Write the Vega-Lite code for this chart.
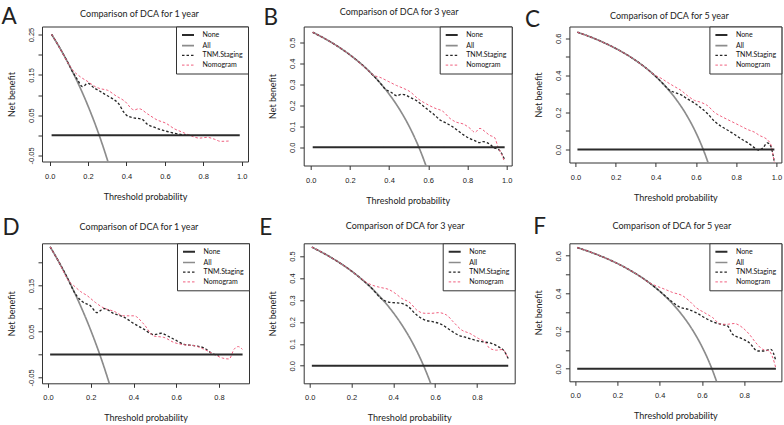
{
"$schema": "https://vega.github.io/schema/vega-lite/v6.json",
"background": "white",
"padding": {"top": 4.5, "left": 0, "right": 0, "bottom": 0},
"autosize": {"type": "pad"},
"datasets": {
"A": [
{"s":"None","t":0.01,"nb":0},{"s":"None","t":0.99,"nb":0},
{"s":"All","t":0.01,"nb":0.2505},{"s":"All","t":0.05,"nb":0.219},{"s":"All","t":0.1,"nb":0.1756},{"s":"All","t":0.15,"nb":0.1271},{"s":"All","t":0.2,"nb":0.0725},{"s":"All","t":0.25,"nb":0.0107},{"s":"All","t":0.28,"nb":-0.0306},{"s":"All","t":0.31,"nb":-0.0754},
{"s":"TNM.Staging","t":0.01,"nb":0.2505},{"s":"TNM.Staging","t":0.05,"nb":0.219},{"s":"TNM.Staging","t":0.1,"nb":0.1756},{"s":"TNM.Staging","t":0.12,"nb":0.157},{"s":"TNM.Staging","t":0.145,"nb":0.138},{"s":"TNM.Staging","t":0.17,"nb":0.121},{"s":"TNM.Staging","t":0.2,"nb":0.129},{"s":"TNM.Staging","t":0.23,"nb":0.118},{"s":"TNM.Staging","t":0.26,"nb":0.11},{"s":"TNM.Staging","t":0.29,"nb":0.101},{"s":"TNM.Staging","t":0.33,"nb":0.09},{"s":"TNM.Staging","t":0.36,"nb":0.078},{"s":"TNM.Staging","t":0.385,"nb":0.058},{"s":"TNM.Staging","t":0.4,"nb":0.05},{"s":"TNM.Staging","t":0.43,"nb":0.044},{"s":"TNM.Staging","t":0.48,"nb":0.04},{"s":"TNM.Staging","t":0.51,"nb":0.027},{"s":"TNM.Staging","t":0.545,"nb":0.02},{"s":"TNM.Staging","t":0.6,"nb":0.011},{"s":"TNM.Staging","t":0.65,"nb":0.005},{"s":"TNM.Staging","t":0.7,"nb":0.001},{"s":"TNM.Staging","t":0.73,"nb":0.0},
{"s":"Nomogram","t":0.01,"nb":0.2505},{"s":"Nomogram","t":0.05,"nb":0.219},{"s":"Nomogram","t":0.1,"nb":0.1756},{"s":"Nomogram","t":0.12,"nb":0.162},{"s":"Nomogram","t":0.16,"nb":0.145},{"s":"Nomogram","t":0.2,"nb":0.133},{"s":"Nomogram","t":0.24,"nb":0.12},{"s":"Nomogram","t":0.27,"nb":0.115},{"s":"Nomogram","t":0.3,"nb":0.112},{"s":"Nomogram","t":0.345,"nb":0.098},{"s":"Nomogram","t":0.39,"nb":0.085},{"s":"Nomogram","t":0.44,"nb":0.063},{"s":"Nomogram","t":0.465,"nb":0.066},{"s":"Nomogram","t":0.51,"nb":0.053},{"s":"Nomogram","t":0.56,"nb":0.038},{"s":"Nomogram","t":0.605,"nb":0.03},{"s":"Nomogram","t":0.65,"nb":0.016},{"s":"Nomogram","t":0.69,"nb":0.008},{"s":"Nomogram","t":0.735,"nb":-0.001},{"s":"Nomogram","t":0.78,"nb":-0.007},{"s":"Nomogram","t":0.82,"nb":-0.005},{"s":"Nomogram","t":0.86,"nb":-0.01},{"s":"Nomogram","t":0.89,"nb":-0.015},{"s":"Nomogram","t":0.94,"nb":-0.014}
],
"B": [
{"s":"None","t":0.01,"nb":0},{"s":"None","t":0.99,"nb":0},
{"s":"All","t":0.01,"nb":0.5475},{"s":"All","t":0.05,"nb":0.5284},{"s":"All","t":0.1,"nb":0.5022},{"s":"All","t":0.15,"nb":0.4729},{"s":"All","t":0.2,"nb":0.44},{"s":"All","t":0.25,"nb":0.4027},{"s":"All","t":0.3,"nb":0.36},{"s":"All","t":0.35,"nb":0.3108},{"s":"All","t":0.4,"nb":0.2533},{"s":"All","t":0.45,"nb":0.1855},{"s":"All","t":0.5,"nb":0.104},{"s":"All","t":0.55,"nb":0.0044},{"s":"All","t":0.575,"nb":-0.0541},{"s":"All","t":0.6,"nb":-0.12},
{"s":"TNM.Staging","t":0.01,"nb":0.5475},{"s":"TNM.Staging","t":0.1,"nb":0.5022},{"s":"TNM.Staging","t":0.2,"nb":0.44},{"s":"TNM.Staging","t":0.3,"nb":0.36},{"s":"TNM.Staging","t":0.35,"nb":0.3108},{"s":"TNM.Staging","t":0.38,"nb":0.2774},{"s":"TNM.Staging","t":0.41,"nb":0.262},{"s":"TNM.Staging","t":0.44,"nb":0.245},{"s":"TNM.Staging","t":0.46,"nb":0.252},{"s":"TNM.Staging","t":0.48,"nb":0.25},{"s":"TNM.Staging","t":0.51,"nb":0.236},{"s":"TNM.Staging","t":0.54,"nb":0.222},{"s":"TNM.Staging","t":0.57,"nb":0.2},{"s":"TNM.Staging","t":0.6,"nb":0.177},{"s":"TNM.Staging","t":0.63,"nb":0.155},{"s":"TNM.Staging","t":0.66,"nb":0.13},{"s":"TNM.Staging","t":0.69,"nb":0.116},{"s":"TNM.Staging","t":0.72,"nb":0.1},{"s":"TNM.Staging","t":0.75,"nb":0.08},{"s":"TNM.Staging","t":0.78,"nb":0.059},{"s":"TNM.Staging","t":0.81,"nb":0.042},{"s":"TNM.Staging","t":0.84,"nb":0.03},{"s":"TNM.Staging","t":0.86,"nb":0.022},{"s":"TNM.Staging","t":0.88,"nb":0.027},{"s":"TNM.Staging","t":0.9,"nb":0.022},{"s":"TNM.Staging","t":0.92,"nb":0.01},{"s":"TNM.Staging","t":0.935,"nb":-0.003},{"s":"TNM.Staging","t":0.955,"nb":-0.008},{"s":"TNM.Staging","t":0.975,"nb":-0.03},{"s":"TNM.Staging","t":0.99,"nb":-0.06},
{"s":"Nomogram","t":0.01,"nb":0.5475},{"s":"Nomogram","t":0.1,"nb":0.5022},{"s":"Nomogram","t":0.2,"nb":0.44},{"s":"Nomogram","t":0.3,"nb":0.36},{"s":"Nomogram","t":0.32,"nb":0.343},{"s":"Nomogram","t":0.353,"nb":0.333},{"s":"Nomogram","t":0.395,"nb":0.314},{"s":"Nomogram","t":0.438,"nb":0.294},{"s":"Nomogram","t":0.472,"nb":0.281},{"s":"Nomogram","t":0.506,"nb":0.265},{"s":"Nomogram","t":0.549,"nb":0.23},{"s":"Nomogram","t":0.591,"nb":0.206},{"s":"Nomogram","t":0.634,"nb":0.186},{"s":"Nomogram","t":0.676,"nb":0.17},{"s":"Nomogram","t":0.71,"nb":0.138},{"s":"Nomogram","t":0.744,"nb":0.119},{"s":"Nomogram","t":0.778,"nb":0.111},{"s":"Nomogram","t":0.813,"nb":0.09},{"s":"Nomogram","t":0.838,"nb":0.071},{"s":"Nomogram","t":0.864,"nb":0.09},{"s":"Nomogram","t":0.889,"nb":0.075},{"s":"Nomogram","t":0.915,"nb":0.056},{"s":"Nomogram","t":0.937,"nb":0.048},{"s":"Nomogram","t":0.957,"nb":0.0},{"s":"Nomogram","t":0.975,"nb":-0.035},{"s":"Nomogram","t":0.99,"nb":-0.071}
],
"C": [
{"s":"None","t":0.01,"nb":0},{"s":"None","t":0.99,"nb":0},
{"s":"All","t":0.01,"nb":0.6323},{"s":"All","t":0.05,"nb":0.6168},{"s":"All","t":0.1,"nb":0.5956},{"s":"All","t":0.15,"nb":0.5718},{"s":"All","t":0.2,"nb":0.545},{"s":"All","t":0.25,"nb":0.5147},{"s":"All","t":0.3,"nb":0.48},{"s":"All","t":0.35,"nb":0.44},{"s":"All","t":0.4,"nb":0.3933},{"s":"All","t":0.45,"nb":0.3382},{"s":"All","t":0.5,"nb":0.272},{"s":"All","t":0.55,"nb":0.1911},{"s":"All","t":0.6,"nb":0.09},{"s":"All","t":0.625,"nb":0.0293},{"s":"All","t":0.65,"nb":-0.04},{"s":"All","t":0.675,"nb":-0.12},
{"s":"TNM.Staging","t":0.01,"nb":0.6323},{"s":"TNM.Staging","t":0.1,"nb":0.5956},{"s":"TNM.Staging","t":0.2,"nb":0.545},{"s":"TNM.Staging","t":0.3,"nb":0.48},{"s":"TNM.Staging","t":0.35,"nb":0.44},{"s":"TNM.Staging","t":0.4,"nb":0.3933},{"s":"TNM.Staging","t":0.45,"nb":0.3382},{"s":"TNM.Staging","t":0.46,"nb":0.327},{"s":"TNM.Staging","t":0.492,"nb":0.308},{"s":"TNM.Staging","t":0.525,"nb":0.295},{"s":"TNM.Staging","t":0.558,"nb":0.272},{"s":"TNM.Staging","t":0.592,"nb":0.251},{"s":"TNM.Staging","t":0.625,"nb":0.224},{"s":"TNM.Staging","t":0.658,"nb":0.193},{"s":"TNM.Staging","t":0.692,"nb":0.152},{"s":"TNM.Staging","t":0.725,"nb":0.125},{"s":"TNM.Staging","t":0.758,"nb":0.104},{"s":"TNM.Staging","t":0.792,"nb":0.081},{"s":"TNM.Staging","t":0.825,"nb":0.057},{"s":"TNM.Staging","t":0.858,"nb":0.036},{"s":"TNM.Staging","t":0.892,"nb":0.009},{"s":"TNM.Staging","t":0.912,"nb":-0.004},{"s":"TNM.Staging","t":0.933,"nb":0.009},{"s":"TNM.Staging","t":0.955,"nb":0.036},{"s":"TNM.Staging","t":0.972,"nb":0.018},{"s":"TNM.Staging","t":0.983,"nb":-0.027},{"s":"TNM.Staging","t":0.99,"nb":-0.07},
{"s":"Nomogram","t":0.01,"nb":0.6323},{"s":"Nomogram","t":0.1,"nb":0.5956},{"s":"Nomogram","t":0.2,"nb":0.545},{"s":"Nomogram","t":0.3,"nb":0.48},{"s":"Nomogram","t":0.35,"nb":0.44},{"s":"Nomogram","t":0.392,"nb":0.403},{"s":"Nomogram","t":0.425,"nb":0.385},{"s":"Nomogram","t":0.458,"nb":0.362},{"s":"Nomogram","t":0.492,"nb":0.34},{"s":"Nomogram","t":0.525,"nb":0.319},{"s":"Nomogram","t":0.558,"nb":0.29},{"s":"Nomogram","t":0.592,"nb":0.265},{"s":"Nomogram","t":0.625,"nb":0.254},{"s":"Nomogram","t":0.658,"nb":0.236},{"s":"Nomogram","t":0.692,"nb":0.2},{"s":"Nomogram","t":0.725,"nb":0.179},{"s":"Nomogram","t":0.758,"nb":0.161},{"s":"Nomogram","t":0.792,"nb":0.143},{"s":"Nomogram","t":0.825,"nb":0.125},{"s":"Nomogram","t":0.858,"nb":0.107},{"s":"Nomogram","t":0.892,"nb":0.093},{"s":"Nomogram","t":0.917,"nb":0.075},{"s":"Nomogram","t":0.942,"nb":0.063},{"s":"Nomogram","t":0.958,"nb":0.05},{"s":"Nomogram","t":0.975,"nb":0.018},{"s":"Nomogram","t":0.983,"nb":-0.027},{"s":"Nomogram","t":0.99,"nb":-0.07}
],
"D": [
{"s":"None","t":0.01,"nb":0},{"s":"None","t":0.91,"nb":0},
{"s":"All","t":0.01,"nb":0.2343},{"s":"All","t":0.05,"nb":0.2021},{"s":"All","t":0.1,"nb":0.1578},{"s":"All","t":0.15,"nb":0.1082},{"s":"All","t":0.2,"nb":0.0525},{"s":"All","t":0.25,"nb":-0.0107},{"s":"All","t":0.3,"nb":-0.0829},
{"s":"TNM.Staging","t":0.01,"nb":0.2343},{"s":"TNM.Staging","t":0.05,"nb":0.2021},{"s":"TNM.Staging","t":0.1,"nb":0.1578},{"s":"TNM.Staging","t":0.12,"nb":0.138},{"s":"TNM.Staging","t":0.16,"nb":0.115},{"s":"TNM.Staging","t":0.198,"nb":0.106},{"s":"TNM.Staging","t":0.23,"nb":0.091},{"s":"TNM.Staging","t":0.261,"nb":0.1},{"s":"TNM.Staging","t":0.308,"nb":0.089},{"s":"TNM.Staging","t":0.355,"nb":0.081},{"s":"TNM.Staging","t":0.402,"nb":0.067},{"s":"TNM.Staging","t":0.448,"nb":0.055},{"s":"TNM.Staging","t":0.495,"nb":0.043},{"s":"TNM.Staging","t":0.53,"nb":0.046},{"s":"TNM.Staging","t":0.56,"nb":0.04},{"s":"TNM.Staging","t":0.589,"nb":0.033},{"s":"TNM.Staging","t":0.636,"nb":0.022},{"s":"TNM.Staging","t":0.683,"nb":0.019},{"s":"TNM.Staging","t":0.73,"nb":0.014},{"s":"TNM.Staging","t":0.777,"nb":0.0},{"s":"TNM.Staging","t":0.8,"nb":-0.001},
{"s":"Nomogram","t":0.01,"nb":0.2343},{"s":"Nomogram","t":0.05,"nb":0.2021},{"s":"Nomogram","t":0.1,"nb":0.1578},{"s":"Nomogram","t":0.12,"nb":0.15},{"s":"Nomogram","t":0.152,"nb":0.137},{"s":"Nomogram","t":0.183,"nb":0.128},{"s":"Nomogram","t":0.222,"nb":0.113},{"s":"Nomogram","t":0.261,"nb":0.101},{"s":"Nomogram","t":0.308,"nb":0.094},{"s":"Nomogram","t":0.355,"nb":0.084},{"s":"Nomogram","t":0.402,"nb":0.084},{"s":"Nomogram","t":0.448,"nb":0.066},{"s":"Nomogram","t":0.495,"nb":0.04},{"s":"Nomogram","t":0.542,"nb":0.037},{"s":"Nomogram","t":0.589,"nb":0.026},{"s":"Nomogram","t":0.636,"nb":0.021},{"s":"Nomogram","t":0.683,"nb":0.019},{"s":"Nomogram","t":0.73,"nb":0.011},{"s":"Nomogram","t":0.777,"nb":0.0},{"s":"Nomogram","t":0.816,"nb":-0.008},{"s":"Nomogram","t":0.847,"nb":-0.01},{"s":"Nomogram","t":0.87,"nb":0.011},{"s":"Nomogram","t":0.889,"nb":0.017},{"s":"Nomogram","t":0.909,"nb":0.011}
],
"E": [
{"s":"None","t":0.01,"nb":0},{"s":"None","t":0.95,"nb":0},
{"s":"All","t":0.01,"nb":0.5404},{"s":"All","t":0.05,"nb":0.521},{"s":"All","t":0.1,"nb":0.4944},{"s":"All","t":0.15,"nb":0.4647},{"s":"All","t":0.2,"nb":0.4313},{"s":"All","t":0.25,"nb":0.3933},{"s":"All","t":0.3,"nb":0.35},{"s":"All","t":0.35,"nb":0.2999},{"s":"All","t":0.4,"nb":0.2417},{"s":"All","t":0.45,"nb":0.1727},{"s":"All","t":0.5,"nb":0.09},{"s":"All","t":0.55,"nb":-0.0111},{"s":"All","t":0.575,"nb":-0.0707},{"s":"All","t":0.6,"nb":-0.1375},
{"s":"TNM.Staging","t":0.01,"nb":0.5404},{"s":"TNM.Staging","t":0.1,"nb":0.4944},{"s":"TNM.Staging","t":0.2,"nb":0.4313},{"s":"TNM.Staging","t":0.25,"nb":0.3933},{"s":"TNM.Staging","t":0.3,"nb":0.35},{"s":"TNM.Staging","t":0.337,"nb":0.31},{"s":"TNM.Staging","t":0.377,"nb":0.29},{"s":"TNM.Staging","t":0.409,"nb":0.287},{"s":"TNM.Staging","t":0.44,"nb":0.284},{"s":"TNM.Staging","t":0.472,"nb":0.269},{"s":"TNM.Staging","t":0.512,"nb":0.231},{"s":"TNM.Staging","t":0.552,"nb":0.208},{"s":"TNM.Staging","t":0.592,"nb":0.2},{"s":"TNM.Staging","t":0.631,"nb":0.188},{"s":"TNM.Staging","t":0.671,"nb":0.163},{"s":"TNM.Staging","t":0.711,"nb":0.14},{"s":"TNM.Staging","t":0.751,"nb":0.128},{"s":"TNM.Staging","t":0.79,"nb":0.117},{"s":"TNM.Staging","t":0.83,"nb":0.109},{"s":"TNM.Staging","t":0.87,"nb":0.102},{"s":"TNM.Staging","t":0.902,"nb":0.087},{"s":"TNM.Staging","t":0.93,"nb":0.068},{"s":"TNM.Staging","t":0.95,"nb":0.033},
{"s":"Nomogram","t":0.01,"nb":0.5404},{"s":"Nomogram","t":0.1,"nb":0.4944},{"s":"Nomogram","t":0.2,"nb":0.4313},{"s":"Nomogram","t":0.234,"nb":0.406},{"s":"Nomogram","t":0.266,"nb":0.383},{"s":"Nomogram","t":0.297,"nb":0.368},{"s":"Nomogram","t":0.337,"nb":0.357},{"s":"Nomogram","t":0.377,"nb":0.348},{"s":"Nomogram","t":0.409,"nb":0.33},{"s":"Nomogram","t":0.44,"nb":0.307},{"s":"Nomogram","t":0.48,"nb":0.287},{"s":"Nomogram","t":0.512,"nb":0.254},{"s":"Nomogram","t":0.552,"nb":0.239},{"s":"Nomogram","t":0.584,"nb":0.239},{"s":"Nomogram","t":0.616,"nb":0.242},{"s":"Nomogram","t":0.655,"nb":0.231},{"s":"Nomogram","t":0.687,"nb":0.2},{"s":"Nomogram","t":0.727,"nb":0.163},{"s":"Nomogram","t":0.767,"nb":0.147},{"s":"Nomogram","t":0.806,"nb":0.125},{"s":"Nomogram","t":0.838,"nb":0.109},{"s":"Nomogram","t":0.862,"nb":0.079},{"s":"Nomogram","t":0.894,"nb":0.071},{"s":"Nomogram","t":0.921,"nb":0.074},{"s":"Nomogram","t":0.95,"nb":0.033}
],
"F": [
{"s":"None","t":0.01,"nb":0},{"s":"None","t":0.95,"nb":0},
{"s":"All","t":0.01,"nb":0.6434},{"s":"All","t":0.05,"nb":0.6284},{"s":"All","t":0.1,"nb":0.6078},{"s":"All","t":0.15,"nb":0.5847},{"s":"All","t":0.2,"nb":0.5588},{"s":"All","t":0.25,"nb":0.5293},{"s":"All","t":0.3,"nb":0.4957},{"s":"All","t":0.35,"nb":0.457},{"s":"All","t":0.4,"nb":0.4117},{"s":"All","t":0.45,"nb":0.3582},{"s":"All","t":0.5,"nb":0.294},{"s":"All","t":0.55,"nb":0.2156},{"s":"All","t":0.6,"nb":0.1175},{"s":"All","t":0.625,"nb":0.0587},{"s":"All","t":0.65,"nb":-0.0085},{"s":"All","t":0.675,"nb":-0.0864},
{"s":"TNM.Staging","t":0.01,"nb":0.6434},{"s":"TNM.Staging","t":0.1,"nb":0.6078},{"s":"TNM.Staging","t":0.2,"nb":0.5588},{"s":"TNM.Staging","t":0.3,"nb":0.4957},{"s":"TNM.Staging","t":0.35,"nb":0.457},{"s":"TNM.Staging","t":0.4,"nb":0.4117},{"s":"TNM.Staging","t":0.454,"nb":0.36},{"s":"TNM.Staging","t":0.493,"nb":0.328},{"s":"TNM.Staging","t":0.532,"nb":0.316},{"s":"TNM.Staging","t":0.572,"nb":0.298},{"s":"TNM.Staging","t":0.611,"nb":0.272},{"s":"TNM.Staging","t":0.65,"nb":0.25},{"s":"TNM.Staging","t":0.69,"nb":0.236},{"s":"TNM.Staging","t":0.721,"nb":0.227},{"s":"TNM.Staging","t":0.745,"nb":0.183},{"s":"TNM.Staging","t":0.784,"nb":0.162},{"s":"TNM.Staging","t":0.824,"nb":0.138},{"s":"TNM.Staging","t":0.863,"nb":0.094},{"s":"TNM.Staging","t":0.894,"nb":0.094},{"s":"TNM.Staging","t":0.926,"nb":0.103},{"s":"TNM.Staging","t":0.95,"nb":0.041},
{"s":"Nomogram","t":0.01,"nb":0.6434},{"s":"Nomogram","t":0.1,"nb":0.6078},{"s":"Nomogram","t":0.2,"nb":0.5588},{"s":"Nomogram","t":0.3,"nb":0.4957},{"s":"Nomogram","t":0.35,"nb":0.457},{"s":"Nomogram","t":0.383,"nb":0.44},{"s":"Nomogram","t":0.422,"nb":0.423},{"s":"Nomogram","t":0.461,"nb":0.405},{"s":"Nomogram","t":0.509,"nb":0.387},{"s":"Nomogram","t":0.54,"nb":0.36},{"s":"Nomogram","t":0.572,"nb":0.325},{"s":"Nomogram","t":0.611,"nb":0.298},{"s":"Nomogram","t":0.65,"nb":0.272},{"s":"Nomogram","t":0.69,"nb":0.236},{"s":"Nomogram","t":0.721,"nb":0.236},{"s":"Nomogram","t":0.753,"nb":0.24},{"s":"Nomogram","t":0.792,"nb":0.218},{"s":"Nomogram","t":0.824,"nb":0.183},{"s":"Nomogram","t":0.855,"nb":0.138},{"s":"Nomogram","t":0.887,"nb":0.103},{"s":"Nomogram","t":0.918,"nb":0.094},{"s":"Nomogram","t":0.934,"nb":0.062},{"s":"Nomogram","t":0.95,"nb":0.002}
]
},
"columns": 3,
"bounds": "flush",
"spacing": {"row": 77.8, "column": 54.7},
"resolve": {
  "scale": {"color": "independent", "strokeDash": "independent", "strokeWidth": "independent", "x": "independent", "y": "independent"},
  "legend": {"color": "independent", "strokeDash": "independent", "strokeWidth": "independent"}
},
"concat": [
{
 "width": 206, "height": 135,
 "data": {"name": "A"},
 "resolve": {"axis": {"x": "independent", "y": "independent"}},
 "encoding": {
  "color": {"field": "s", "type": "nominal", "scale": {"domain": ["None","All","TNM.Staging","Nomogram"], "range": ["#2b2b2b","#8c8c8c","#262626","#f0607f"]}, "legend": {"title": null}},
  "strokeDash": {"field": "s", "type": "nominal", "scale": {"domain": ["None","All","TNM.Staging","Nomogram"], "range": [[1,0],[1,0],[2.5,2],[2.5,2]]}, "legend": {"title": null}},
  "strokeWidth": {"field": "s", "type": "nominal", "scale": {"domain": ["None","All","TNM.Staging","Nomogram"], "range": [2,1,0.8,0.8]}, "legend": {"title": null}}
 },
 "layer": [
  {"transform": [{"filter": "datum.s != 'None'"}],
   "mark": {"type": "line", "clip": true, "interpolate": "monotone"},
   "encoding": {
    "x": {"field": "t", "type": "quantitative", "scale": {"domain": [-0.04, 1.033], "nice": false, "zero": false},
          "axis": {"orient": "bottom", "values": [0,0.2,0.4,0.6,0.8,1], "format": ".1f", "title": "Threshold probability", "titleY": 37.5, "titleBaseline": "alphabetic"}},
    "y": {"field": "nb", "type": "quantitative", "scale": {"domain": [-0.065, 0.27], "nice": false, "zero": false},
          "axis": {"values": [-0.05,0,0.05,0.1,0.15,0.2,0.25], "labelExpr": "abs(round(datum.value*100)) % 10 == 5 ? replace(format(datum.value, '.2f'), '\u2212', '-') : ''", "title": "Net benefit", "labelAngle": -90, "labelAlign": "center", "labelBaseline": "alphabetic", "labelPadding": 5, "titleX": -28, "titleBaseline": "alphabetic"}}
   }},
  {"transform": [{"filter": "datum.s == 'None'"}],
   "mark": {"type": "line", "clip": true},
   "encoding": {
    "x": {"field": "t", "type": "quantitative", "scale": {"domain": [-0.04, 1.033], "nice": false, "zero": false},
          "axis": {"orient": "top", "labels": false, "ticks": false, "domain": false, "title": "Comparison of DCA for 1 year", "titleX": 97, "titleY": -10, "titleBaseline": "alphabetic"}},
    "y": {"field": "nb", "type": "quantitative", "scale": {"domain": [-0.065, 0.27], "nice": false, "zero": false},
          "axis": {"orient": "left", "labels": false, "ticks": false, "domain": false, "title": "A", "titleAngle": 0, "titleX": -41, "titleY": -2.7, "titleAlign": "left", "titleBaseline": "alphabetic", "titleFontSize": 22.5}}
   }}
 ]
},
{
 "width": 208, "height": 139,
 "data": {"name": "B"},
 "resolve": {"axis": {"x": "independent", "y": "independent"}},
 "encoding": {
  "color": {"field": "s", "type": "nominal", "scale": {"domain": ["None","All","TNM.Staging","Nomogram"], "range": ["#2b2b2b","#8c8c8c","#262626","#f0607f"]}, "legend": {"title": null}},
  "strokeDash": {"field": "s", "type": "nominal", "scale": {"domain": ["None","All","TNM.Staging","Nomogram"], "range": [[1,0],[1,0],[2.5,2],[2.5,2]]}, "legend": {"title": null}},
  "strokeWidth": {"field": "s", "type": "nominal", "scale": {"domain": ["None","All","TNM.Staging","Nomogram"], "range": [2,1,0.8,0.8]}, "legend": {"title": null}}
 },
 "layer": [
  {"transform": [{"filter": "datum.s != 'None'"}],
   "mark": {"type": "line", "clip": true, "interpolate": "monotone"},
   "encoding": {
    "x": {"field": "t", "type": "quantitative", "scale": {"domain": [-0.036, 1.026], "nice": false, "zero": false},
          "axis": {"orient": "bottom", "values": [0,0.2,0.4,0.6,0.8,1], "format": ".1f", "title": "Threshold probability", "titleY": 37.5, "titleBaseline": "alphabetic"}},
    "y": {"field": "nb", "type": "quantitative", "scale": {"domain": [-0.087, 0.575], "nice": false, "zero": false},
          "axis": {"values": [0,0.1,0.2,0.3,0.4,0.5], "format": ".1f", "title": "Net benefit", "labelAngle": -90, "labelAlign": "center", "labelBaseline": "alphabetic", "labelPadding": 5, "titleX": -28, "titleBaseline": "alphabetic"}}
   }},
  {"transform": [{"filter": "datum.s == 'None'"}],
   "mark": {"type": "line", "clip": true},
   "encoding": {
    "x": {"field": "t", "type": "quantitative", "scale": {"domain": [-0.036, 1.026], "nice": false, "zero": false},
          "axis": {"orient": "top", "labels": false, "ticks": false, "domain": false, "title": "Comparison of DCA for 3 year", "titleX": 95, "titleY": -11.6, "titleBaseline": "alphabetic"}},
    "y": {"field": "nb", "type": "quantitative", "scale": {"domain": [-0.087, 0.575], "nice": false, "zero": false},
          "axis": {"orient": "left", "labels": false, "ticks": false, "domain": false, "title": "B", "titleAngle": 0, "titleX": -40.7, "titleY": -2, "titleAlign": "left", "titleBaseline": "alphabetic", "titleFontSize": 22.5}}
   }}
 ]
},
{
 "width": 212, "height": 136,
 "data": {"name": "C"},
 "resolve": {"axis": {"x": "independent", "y": "independent"}},
 "encoding": {
  "color": {"field": "s", "type": "nominal", "scale": {"domain": ["None","All","TNM.Staging","Nomogram"], "range": ["#2b2b2b","#8c8c8c","#262626","#f0607f"]}, "legend": {"title": null}},
  "strokeDash": {"field": "s", "type": "nominal", "scale": {"domain": ["None","All","TNM.Staging","Nomogram"], "range": [[1,0],[1,0],[2.5,2],[2.5,2]]}, "legend": {"title": null}},
  "strokeWidth": {"field": "s", "type": "nominal", "scale": {"domain": ["None","All","TNM.Staging","Nomogram"], "range": [2,1,0.8,0.8]}, "legend": {"title": null}}
 },
 "layer": [
  {"transform": [{"filter": "datum.s != 'None'"}],
   "mark": {"type": "line", "clip": true, "interpolate": "monotone"},
   "encoding": {
    "x": {"field": "t", "type": "quantitative", "scale": {"domain": [-0.03, 1.025], "nice": false, "zero": false},
          "axis": {"orient": "bottom", "values": [0,0.2,0.4,0.6,0.8,1], "format": ".1f", "title": "Threshold probability", "titleY": 37.5, "titleBaseline": "alphabetic"}},
    "y": {"field": "nb", "type": "quantitative", "scale": {"domain": [-0.07, 0.663], "nice": false, "zero": false},
          "axis": {"values": [0,0.1,0.2,0.3,0.4,0.5,0.6], "labelExpr": "round(datum.value*10) % 2 == 0 ? format(datum.value, '.1f') : ''", "title": "Net benefit", "labelAngle": -90, "labelAlign": "center", "labelBaseline": "alphabetic", "labelPadding": 5, "titleX": -28, "titleBaseline": "alphabetic"}}
   }},
  {"transform": [{"filter": "datum.s == 'None'"}],
   "mark": {"type": "line", "clip": true},
   "encoding": {
    "x": {"field": "t", "type": "quantitative", "scale": {"domain": [-0.03, 1.025], "nice": false, "zero": false},
          "axis": {"orient": "top", "labels": false, "ticks": false, "domain": false, "title": "Comparison of DCA for 5 year", "titleX": 99.5, "titleY": -8.3, "titleBaseline": "alphabetic"}},
    "y": {"field": "nb", "type": "quantitative", "scale": {"domain": [-0.07, 0.663], "nice": false, "zero": false},
          "axis": {"orient": "left", "labels": false, "ticks": false, "domain": false, "title": "C", "titleAngle": 0, "titleX": -45, "titleY": 0, "titleAlign": "left", "titleBaseline": "alphabetic", "titleFontSize": 22.5}}
   }}
 ]
},
{
 "width": 207, "height": 140,
 "data": {"name": "D"},
 "resolve": {"axis": {"x": "independent", "y": "independent"}},
 "encoding": {
  "color": {"field": "s", "type": "nominal", "scale": {"domain": ["None","All","TNM.Staging","Nomogram"], "range": ["#2b2b2b","#8c8c8c","#262626","#f0607f"]}, "legend": {"title": null}},
  "strokeDash": {"field": "s", "type": "nominal", "scale": {"domain": ["None","All","TNM.Staging","Nomogram"], "range": [[1,0],[1,0],[2.5,2],[2.5,2]]}, "legend": {"title": null}},
  "strokeWidth": {"field": "s", "type": "nominal", "scale": {"domain": ["None","All","TNM.Staging","Nomogram"], "range": [2,1,0.8,0.8]}, "legend": {"title": null}}
 },
 "layer": [
  {"transform": [{"filter": "datum.s != 'None'"}],
   "mark": {"type": "line", "clip": true, "interpolate": "monotone"},
   "encoding": {
    "x": {"field": "t", "type": "quantitative", "scale": {"domain": [-0.028, 0.94], "nice": false, "zero": false},
          "axis": {"orient": "bottom", "values": [0,0.2,0.4,0.6,0.8], "format": ".1f", "title": "Threshold probability", "titleY": 37.5, "titleBaseline": "alphabetic"}},
    "y": {"field": "nb", "type": "quantitative", "scale": {"domain": [-0.063, 0.242], "nice": false, "zero": false},
          "axis": {"values": [-0.05,0,0.05,0.1,0.15,0.2], "labelExpr": "abs(round(datum.value*100)) % 10 == 5 ? replace(format(datum.value, '.2f'), '\u2212', '-') : ''", "title": "Net benefit", "labelAngle": -90, "labelAlign": "center", "labelBaseline": "alphabetic", "labelPadding": 5, "titleX": -28, "titleBaseline": "alphabetic"}}
   }},
  {"transform": [{"filter": "datum.s == 'None'"}],
   "mark": {"type": "line", "clip": true},
   "encoding": {
    "x": {"field": "t", "type": "quantitative", "scale": {"domain": [-0.028, 0.94], "nice": false, "zero": false},
          "axis": {"orient": "top", "labels": false, "ticks": false, "domain": false, "title": "Comparison of DCA for 1 year", "titleX": 96.5, "titleY": -14.3, "titleBaseline": "alphabetic"}},
    "y": {"field": "nb", "type": "quantitative", "scale": {"domain": [-0.063, 0.242], "nice": false, "zero": false},
          "axis": {"orient": "left", "labels": false, "ticks": false, "domain": false, "title": "D", "titleAngle": 0, "titleX": -40, "titleY": -8.6, "titleAlign": "left", "titleBaseline": "alphabetic", "titleFontSize": 22.5}}
   }}
 ]
},
{
 "width": 211, "height": 140,
 "data": {"name": "E"},
 "resolve": {"axis": {"x": "independent", "y": "independent"}},
 "encoding": {
  "color": {"field": "s", "type": "nominal", "scale": {"domain": ["None","All","TNM.Staging","Nomogram"], "range": ["#2b2b2b","#8c8c8c","#262626","#f0607f"]}, "legend": {"title": null}},
  "strokeDash": {"field": "s", "type": "nominal", "scale": {"domain": ["None","All","TNM.Staging","Nomogram"], "range": [[1,0],[1,0],[2.5,2],[2.5,2]]}, "legend": {"title": null}},
  "strokeWidth": {"field": "s", "type": "nominal", "scale": {"domain": ["None","All","TNM.Staging","Nomogram"], "range": [2,1,0.8,0.8]}, "legend": {"title": null}}
 },
 "layer": [
  {"transform": [{"filter": "datum.s != 'None'"}],
   "mark": {"type": "line", "clip": true, "interpolate": "monotone"},
   "encoding": {
    "x": {"field": "t", "type": "quantitative", "scale": {"domain": [-0.029, 0.981], "nice": false, "zero": false},
          "axis": {"orient": "bottom", "values": [0,0.2,0.4,0.6,0.8], "format": ".1f", "title": "Threshold probability", "titleY": 37.5, "titleBaseline": "alphabetic"}},
    "y": {"field": "nb", "type": "quantitative", "scale": {"domain": [-0.08, 0.558], "nice": false, "zero": false},
          "axis": {"values": [0,0.1,0.2,0.3,0.4,0.5], "format": ".1f", "title": "Net benefit", "labelAngle": -90, "labelAlign": "center", "labelBaseline": "alphabetic", "labelPadding": 5, "titleX": -28, "titleBaseline": "alphabetic"}}
   }},
  {"transform": [{"filter": "datum.s == 'None'"}],
   "mark": {"type": "line", "clip": true},
   "encoding": {
    "x": {"field": "t", "type": "quantitative", "scale": {"domain": [-0.029, 0.981], "nice": false, "zero": false},
          "axis": {"orient": "top", "labels": false, "ticks": false, "domain": false, "title": "Comparison of DCA for 3 year", "titleX": 101, "titleY": -15, "titleBaseline": "alphabetic"}},
    "y": {"field": "nb", "type": "quantitative", "scale": {"domain": [-0.08, 0.558], "nice": false, "zero": false},
          "axis": {"orient": "left", "labels": false, "ticks": false, "domain": false, "title": "E", "titleAngle": 0, "titleX": -45, "titleY": -9, "titleAlign": "left", "titleBaseline": "alphabetic", "titleFontSize": 22.5}}
   }}
 ]
},
{
 "width": 212, "height": 138,
 "data": {"name": "F"},
 "resolve": {"axis": {"x": "independent", "y": "independent"}},
 "encoding": {
  "color": {"field": "s", "type": "nominal", "scale": {"domain": ["None","All","TNM.Staging","Nomogram"], "range": ["#2b2b2b","#8c8c8c","#262626","#f0607f"]}, "legend": {"title": null}},
  "strokeDash": {"field": "s", "type": "nominal", "scale": {"domain": ["None","All","TNM.Staging","Nomogram"], "range": [[1,0],[1,0],[2.5,2],[2.5,2]]}, "legend": {"title": null}},
  "strokeWidth": {"field": "s", "type": "nominal", "scale": {"domain": ["None","All","TNM.Staging","Nomogram"], "range": [2,1,0.8,0.8]}, "legend": {"title": null}}
 },
 "layer": [
  {"transform": [{"filter": "datum.s != 'None'"}],
   "mark": {"type": "line", "clip": true, "interpolate": "monotone"},
   "encoding": {
    "x": {"field": "t", "type": "quantitative", "scale": {"domain": [-0.027, 0.976], "nice": false, "zero": false},
          "axis": {"orient": "bottom", "values": [0,0.2,0.4,0.6,0.8], "format": ".1f", "title": "Threshold probability", "titleY": 37.5, "titleBaseline": "alphabetic"}},
    "y": {"field": "nb", "type": "quantitative", "scale": {"domain": [-0.067, 0.666], "nice": false, "zero": false},
          "axis": {"values": [0,0.1,0.2,0.3,0.4,0.5,0.6], "labelExpr": "round(datum.value*10) % 2 == 0 ? format(datum.value, '.1f') : ''", "title": "Net benefit", "labelAngle": -90, "labelAlign": "center", "labelBaseline": "alphabetic", "labelPadding": 5, "titleX": -28, "titleBaseline": "alphabetic"}}
   }},
  {"transform": [{"filter": "datum.s == 'None'"}],
   "mark": {"type": "line", "clip": true},
   "encoding": {
    "x": {"field": "t", "type": "quantitative", "scale": {"domain": [-0.027, 0.976], "nice": false, "zero": false},
          "axis": {"orient": "top", "labels": false, "ticks": false, "domain": false, "title": "Comparison of DCA for 5 year", "titleX": 102, "titleY": -15.3, "titleBaseline": "alphabetic"}},
    "y": {"field": "nb", "type": "quantitative", "scale": {"domain": [-0.067, 0.666], "nice": false, "zero": false},
          "axis": {"orient": "left", "labels": false, "ticks": false, "domain": false, "title": "F", "titleAngle": 0, "titleX": -36.7, "titleY": -10, "titleAlign": "left", "titleBaseline": "alphabetic", "titleFontSize": 22.5}}
   }}
 ]
}
],
"config": {
 "font": "Lato",
 "view": {"stroke": "#333333", "strokeWidth": 1},
 "axis": {"grid": false, "domain": false, "tickColor": "#333333", "tickSize": 4, "tickWidth": 1,
          "labelFont": "Liberation Sans", "labelFontSize": 7.5, "labelColor": "#222222", "labelPadding": 6.5, "labelFlush": false, "labelOverlap": false,
          "titleFont": "Lato", "titleFontSize": 9, "titleFontWeight": "normal", "titleColor": "#222222"},
 "legend": {"orient": "top-right", "offset": 0, "padding": 5, "strokeColor": "#333333", "fillColor": "white",
            "labelFont": "Lato", "labelFontSize": 7, "labelColor": "#111111", "labelLimit": 200,
            "symbolType": "M-2.4,0H2.4", "symbolSize": 25, "symbolOffset": 3.5, "labelOffset": 11, "rowPadding": 1.7}
}
}
